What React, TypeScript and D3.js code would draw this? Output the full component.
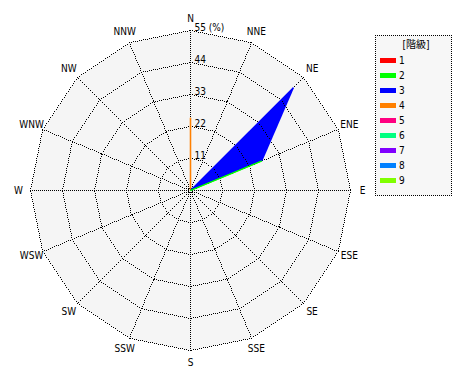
import React from "react";
import * as d3 from "d3";

const directions = ["N","NNE","NE","ENE","E","ESE","SE","SSE","S","SSW","SW","WSW","W","WNW","NW","NNW"];
const ringTicks = [11, 22, 33, 44, 55];
const classes = ["1","2","3","4","5","6","7","8","9"];
const classColors = ["#ff0000","#00ff00","#0000ff","#ff8000","#ff0080","#00ff80","#8000ff","#0080ff","#80ff00"];
// frequency (%) per class, per direction (N..NNW)
const class1 = [0,0,0,0,0,0,0,0,0,0,0,0,0,0,0,0];
const class2 = [0,0,0,26.5,0,0,0,0,0,0,0,0,0,0,0,0];
const class3 = [0,0,50,0,0,0,0,0,0,0,0,0,0,0,0,0];
const class4 = [25,0,0,0,0,0,0,0,0,0,0,0,0,0,0,0];
const class5 = [0,0,0,0,0,0,0,0,0,0,0,0,0,0,0,0];
const class6 = [0,0,0,0,0,0,0,0,0,0,0,0,0,0,0,0];
const class7 = [0,0,0,0,0,0,0,0,0,0,0,0,0,0,0,0];
const class8 = [0,0,0,0,0,0,0,0,0,0,0,0,0,0,0,0];
const class9 = [0,0,0,0,0,0,0,0,0,0,0,0,0,0,0,0];
const seriesValues = [class1,class2,class3,class4,class5,class6,class7,class8,class9];

const W = 470, H = 380;
const cx = 190.5, cy = 190.5, R = 160;
const FONT = "'DejaVu Sans', 'Noto Sans CJK JP', sans-serif";
const textStyle = { fontStretch: "condensed" } as const;

// pixel-dotted segment (every other pixel along the major axis)
function dotPath(a: [number, number], b: [number, number]): string {
  const dx = b[0] - a[0], dy = b[1] - a[1];
  const n = Math.max(1, Math.round(Math.max(Math.abs(dx), Math.abs(dy))));
  let d = "";
  for (let s = 0; s <= n; s += 2) {
    const x = Math.floor(a[0] + (dx * s) / n);
    const y = Math.floor(a[1] + (dy * s) / n);
    d += `M${x},${y}h1v1h-1z`;
  }
  return d;
}

export default function App() {
  const r = d3.scaleLinear().domain([0, 55]).range([0, R]);
  const angle = d3.scaleLinear().domain([0, directions.length]).range([0, 2 * Math.PI]);
  const pt = (i: number, v: number): [number, number] => {
    const a = angle(i);
    return [cx + Math.sin(a) * v, cy - Math.cos(a) * v];
  };
  const ringPath = (rad: number) =>
    d3.line().curve(d3.curveLinearClosed)(directions.map((_, i) => pt(i, rad)))!;

  const cumulative: number[][] = [];
  seriesValues.forEach((s, k) => {
    cumulative.push(s.map((v, i) => v + (k > 0 ? cumulative[k - 1][i] : 0)));
  });
  const radial = d3
    .lineRadial<number>()
    .angle((_, i) => angle(i))
    .radius((d) => r(d))
    .curve(d3.curveLinearClosed);

  const order = cumulative.map((c, k) => ({ c, k })).reverse();

  let grid = "";
  ringTicks.forEach((t) => {
    directions.forEach((_, i) => {
      grid += dotPath(pt(i, r(t)), pt((i + 1) % directions.length, r(t)));
    });
  });
  directions.forEach((_, i) => {
    grid += dotPath([cx, cy], pt(i, R));
  });

  return (
    <svg width={W} height={H} style={{ position: "absolute", left: 0, top: 0, background: "#fff" }}>
      <path d={ringPath(R)} fill="#f5f5f5" shapeRendering="crispEdges" />
      <g transform={`translate(${cx},${cy})`}>
        {order.map(({ c, k }) => (
          <path key={k} d={radial(c)!} fill={classColors[k]} stroke="none" shapeRendering="crispEdges" />
        ))}
      </g>
      <path d={grid} fill="#000" shapeRendering="crispEdges" />
      {order.map(({ c, k }) => (
        <g key={`s${k}`}>
          {c.map((v, i) => {
            const j = (i + 1) % c.length;
            const own = seriesValues[k];
            if (own[i] === 0 && own[j] === 0) return null;
            const [x1, y1] = pt(i, r(v));
            const [x2, y2] = pt(j, r(c[j]));
            return (
              <line key={i} x1={x1} y1={y1} x2={x2} y2={y2}
                stroke={classColors[k]} strokeWidth={1.3} />
            );
          })}
        </g>
      ))}
      {ringTicks.map((t, i) => (
        <text key={t} x={cx + 4} y={cy - r(t) - 3} fontFamily={FONT} style={textStyle} fontSize={10} dominantBaseline="middle" fill="#000">
          {i === ringTicks.length - 1 ? `${t} (%)` : t}
        </text>
      ))}
      {directions.map((d, i) => {
        const [x, y] = pt(i, 172);
        return (
          <text key={d} x={x} y={y} textAnchor="middle" dominantBaseline="middle" fontFamily={FONT} style={textStyle} fontSize={10} fill="#000">
            {d}
          </text>
        );
      })}
      <g>
        <rect x={375.5} y={35.5} width={76} height={160} fill="#f7f7f7" stroke="none" />
        <path d={dotPath([375, 35], [451, 35]) + dotPath([451, 35], [451, 195]) + dotPath([375, 195], [451, 195]) + dotPath([375, 35], [375, 195])} fill="#000" shapeRendering="crispEdges" />
        <text x={416} y={45} textAnchor="middle" dominantBaseline="middle" fontFamily={FONT} style={textStyle} fontSize={10} fill="#000">
          [階級]
        </text>
        {classes.map((c, i) => (
          <g key={c}>
            <rect x={380} y={58 + i * 15} width={16} height={5} fill={classColors[i]} />
            <text x={399} y={61 + i * 15} dominantBaseline="middle" fontFamily={FONT} style={textStyle} fontSize={10} fill="#000">
              {c}
            </text>
          </g>
        ))}
      </g>
    </svg>
  );
}
